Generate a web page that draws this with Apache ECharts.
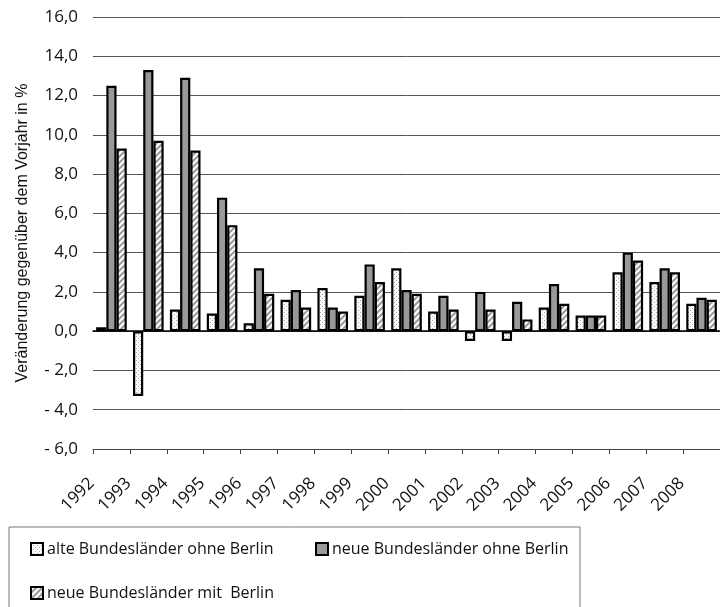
<!DOCTYPE html>
<html>
<head>
<meta charset="utf-8">
<script src="https://cdn.jsdelivr.net/npm/echarts@6/dist/echarts.min.js"></script>
<style>
  html, body { margin: 0; padding: 0; background: #fff; }
  #chart { width: 720px; height: 607px; }
</style>
</head>
<body>
<div id="chart"></div>
<script>
const years = ["1992", "1993", "1994", "1995", "1996", "1997", "1998", "1999", "2000",
  "2001", "2002", "2003", "2004", "2005", "2006", "2007", "2008"];
const alteOhneBerlin = [0.2, -3.3, 1.1, 0.9, 0.4, 1.6, 2.2, 1.8, 3.2, 1.0, -0.5, -0.5, 1.2, 0.8, 3.0, 2.5, 1.4];
const neueOhneBerlin = [12.5, 13.3, 12.9, 6.8, 3.2, 2.1, 1.2, 3.4, 2.1, 1.8, 2.0, 1.5, 2.4, 0.8, 4.0, 3.2, 1.7];
const neueMitBerlin = [9.3, 9.7, 9.2, 5.4, 1.9, 1.2, 1.0, 2.5, 1.9, 1.1, 1.1, 0.6, 1.4, 0.8, 3.6, 3.0, 1.6];

const seriesNames = ["alte Bundesländer ohne Berlin", "neue Bundesländer ohne Berlin", "neue Bundesländer mit  Berlin"];

// fill patterns like the old office chart
function dotPattern() {
  const c = document.createElement("canvas");
  c.width = 4; c.height = 4;
  const g = c.getContext("2d");
  g.fillStyle = "#fbfbfb";
  g.fillRect(0, 0, 4, 4);
  g.fillStyle = "#a8a8a8";
  g.fillRect(0, 0, 1, 1);
  g.fillRect(2, 2, 1, 1);
  return c;
}
function stripePattern() {
  const c = document.createElement("canvas");
  c.width = 6; c.height = 6;
  const g = c.getContext("2d");
  g.fillStyle = "#ffffff";
  g.fillRect(0, 0, 6, 6);
  g.strokeStyle = "#9a9a9a";
  g.lineWidth = 2;
  g.beginPath();
  g.moveTo(-3, 3); g.lineTo(3, -3);
  g.moveTo(0, 6); g.lineTo(6, 0);
  g.moveTo(3, 9); g.lineTo(9, 3);
  g.stroke();
  return c;
}

const fmt = v => {
  const s = Math.abs(v).toFixed(1).replace(".", ",");
  return v < 0 ? "- " + s : s;
};

const chart = echarts.init(document.getElementById("chart"));
const border = { borderColor: "#000", borderWidth: 2.2 };

chart.setOption({
  animation: false,
  textStyle: { fontFamily: "Open Sans" },
  grid: { left: 93, top: 17, right: -6, bottom: 158 },
  legend: {
    left: 9,
    top: 527,
    orient: "horizontal",
    width: 560,
    padding: [14, 8, 20, 21],
    itemGap: 28,
    itemWidth: 12,
    itemHeight: 12,
    icon: "rect",
    borderColor: "#777",
    borderWidth: 1,
    textStyle: { fontSize: 16, color: "#111", width: 240, lineHeight: 13, padding: [0, 0, 0, -1] },
    data: seriesNames
  },
  xAxis: [
    {
      type: "category",
      data: years,
      axisLine: { onZero: true, lineStyle: { color: "#000", width: 1.5 } },
      axisTick: { show: false },
      axisLabel: { show: false }
    },
    {
      type: "category",
      data: years,
      position: "bottom",
      axisLine: { onZero: false, lineStyle: { color: "#444", width: 1 } },
      axisTick: { show: true, length: 5, lineStyle: { color: "#444" } },
      axisLabel: { rotate: 45, fontSize: 17, color: "#111", margin: 12, padding: [0, 28, 0, 0] }
    }
  ],
  yAxis: {
    type: "value",
    min: -6,
    max: 16,
    interval: 2,
    name: "Veränderung gegenüber dem Vorjahr in %",
    nameLocation: "middle",
    nameGap: 62,
    nameTextStyle: { fontFamily: "Liberation Sans", fontSize: 16, color: "#111" },
    axisLine: { show: false },
    axisTick: { show: false },
    axisLabel: { formatter: fmt, fontSize: 17, color: "#111", margin: 15 },
    splitLine: { lineStyle: { color: "#555", width: 1 } }
  },
  series: [
    {
      name: seriesNames[0],
      type: "bar",
      data: alteOhneBerlin,
      barGap: "0%",
      barCategoryGap: "17%",
      itemStyle: Object.assign({ color: { image: dotPattern(), repeat: "repeat" } }, border)
    },
    {
      name: seriesNames[1],
      type: "bar",
      data: neueOhneBerlin,
      itemStyle: Object.assign({ color: "#999999" }, border)
    },
    {
      name: seriesNames[2],
      type: "bar",
      data: neueMitBerlin,
      itemStyle: Object.assign({ color: { image: stripePattern(), repeat: "repeat" } }, border)
    }
  ]
});
</script>
</body>
</html>
